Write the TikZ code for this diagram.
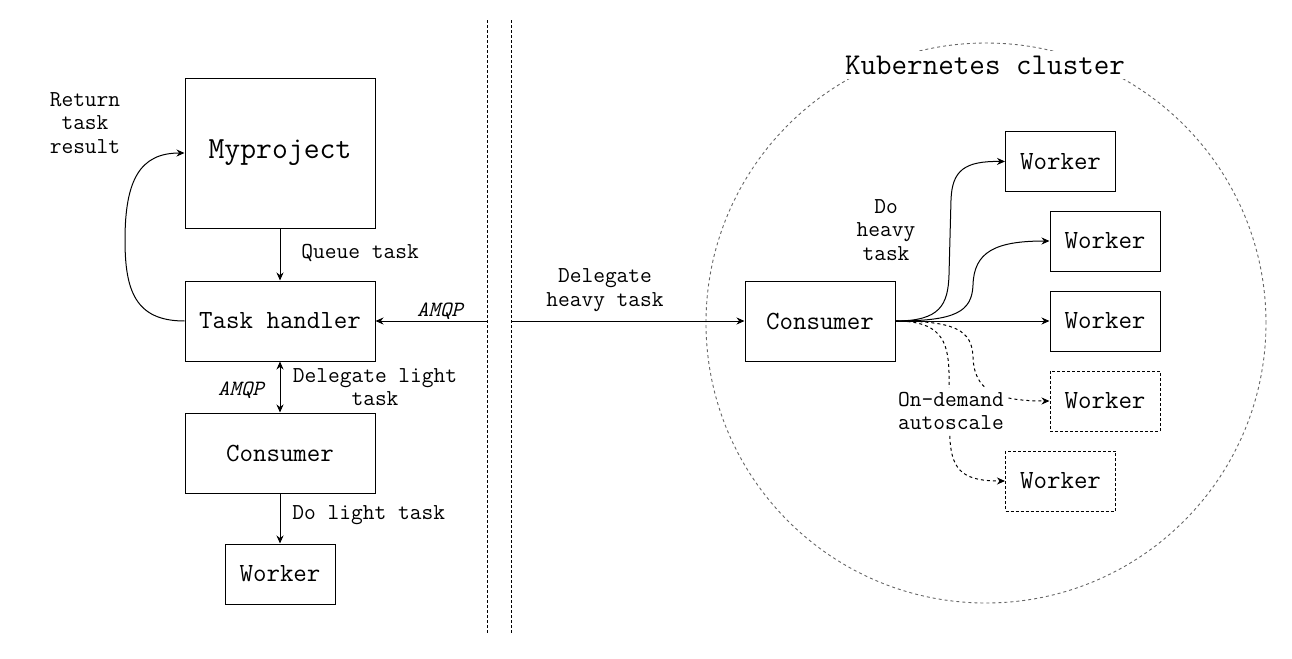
\documentclass[tikz,border=0pt]{standalone}
\usepackage{fontspec}
\usetikzlibrary{arrows.meta}
\begin{document}
\begin{tikzpicture}[x=0.5pt,y=-0.5pt,
  box/.style={draw, line width=0.5pt, inner sep=0pt, font=\ttfamily\fontsize{13.1}{15}\selectfont},
  dbox/.style={box, dash pattern=on 1.5pt off 1pt},
  lbl/.style={font=\ttfamily\fontsize{11.4}{11.75}\selectfont, inner sep=0pt, align=center},
  amqp/.style={font=\ttfamily\fontsize{10.9}{12}\selectfont\itshape, inner sep=0pt},
  arr/.style={line width=0.5pt, -{Stealth[length=4pt,width=3.5pt]}},
  darr/.style={arr, dash pattern=on 1.5pt off 1.5pt},
  divider/.style={line width=0.5pt, dash pattern=on 1.5pt off 1pt},
  cluster/.style={draw=black!60, line width=0.45pt, dash pattern=on 1.5pt off 1.5pt},
]
\useasboundingbox (0,0) rectangle (1292,659);

% cluster circle
\coordinate (cc) at (986,323);
\draw[cluster] (cc) circle [radius=140pt];
\node[fill=white, inner xsep=2pt, inner ysep=2.5pt, font=\ttfamily\fontsize{15.1}{17}\selectfont] (kc) at (985,65) {Kubernetes cluster};

% dividers
\coordinate (d1t) at (487,20);
\coordinate (d1b) at (487,633);
\coordinate (d2t) at (511,20);
\coordinate (d2b) at (511,633);
\coordinate (d1m) at (487,321);
\coordinate (d2m) at (511,321);
\draw[divider] (d1t) -- (d1b);
\draw[divider] (d2t) -- (d2b);

% left side boxes
\node[box, minimum width=95pt, minimum height=75pt, font=\ttfamily\fontsize{15.4}{17}\selectfont] (mp) at (280,153) {Myproject};
\node[box, minimum width=95pt, minimum height=40pt] (th) at (280,321) {Task handler};
\node[box, minimum width=95pt, minimum height=40pt] (lc) at (280,453) {Consumer};
\node[box, minimum width=55pt, minimum height=30pt] (lw) at (280,574) {Worker};

% right side boxes
\node[box, minimum width=75pt, minimum height=40pt] (rc) at (820,321) {Consumer};
\node[box, minimum width=55pt, minimum height=30pt] (w1) at (1060.5,161.5) {Worker};
\node[box, minimum width=55pt, minimum height=30pt] (w2) at (1105,241) {Worker};
\node[box, minimum width=55pt, minimum height=30pt] (w3) at (1105,321) {Worker};
\node[dbox, minimum width=55pt, minimum height=30pt] (w4) at (1105,401) {Worker};
\node[dbox, minimum width=55pt, minimum height=30pt] (w5) at (1060.5,481) {Worker};

% left connectors
\draw[arr] (mp.south) -- (th.north);
\draw[arr] (th.west) .. controls (135,321) and (125,290) .. (125,240)
  .. controls (125,180) and (140,153) .. (mp.west);
\draw[arr] (d1m) -- (th.east);
\draw[line width=0.5pt, {Stealth[length=4pt,width=3.5pt]}-{Stealth[length=4pt,width=3.5pt]}] (th.south) -- (lc.north);
\draw[arr] (lc.south) -- (lw.north);

% right connectors
\draw[arr] (d2m) -- (rc.west);
\draw[arr] (rc.east) .. controls (940,321) and (948,305) .. (949,275)
  -- (951,200) .. controls (952,170) and (965,161) .. (w1.west);
\draw[arr] (rc.east) .. controls (955,321) and (972,312) .. (973,285)
  .. controls (974,252) and (995,241) .. (w2.west);
\draw[arr] (rc.east) -- (w3.west);
\draw[darr] (rc.east) .. controls (955,321) and (972,330) .. (973,357)
  .. controls (974,390) and (995,401) .. (w4.west);
\draw[darr] (rc.east) .. controls (940,321) and (948,340) .. (949,372)
  -- (950,440) .. controls (952,472) and (965,481) .. (w5.west);

% labels
\node[lbl] (l1) at (85,123) {Return\\task\\result};
\node[lbl, anchor=west] (l2) at (301,253) {Queue task};
\node[amqp] (l3) at (440,311) {AMQP};
\node[lbl] (l4) at (375,387) {Delegate light\\task};
\node[amqp] (l5) at (241,390) {AMQP};
\node[lbl, anchor=west] (l6) at (292,515) {Do light task};
\node[lbl] (l7) at (605,290) {Delegate\\heavy task};
\node[lbl] (l8) at (886,230) {Do\\heavy\\task};
\node[lbl, fill=white, inner sep=2pt] (l9) at (951,411) {On-demand\\autoscale};
\end{tikzpicture}
\end{document}
